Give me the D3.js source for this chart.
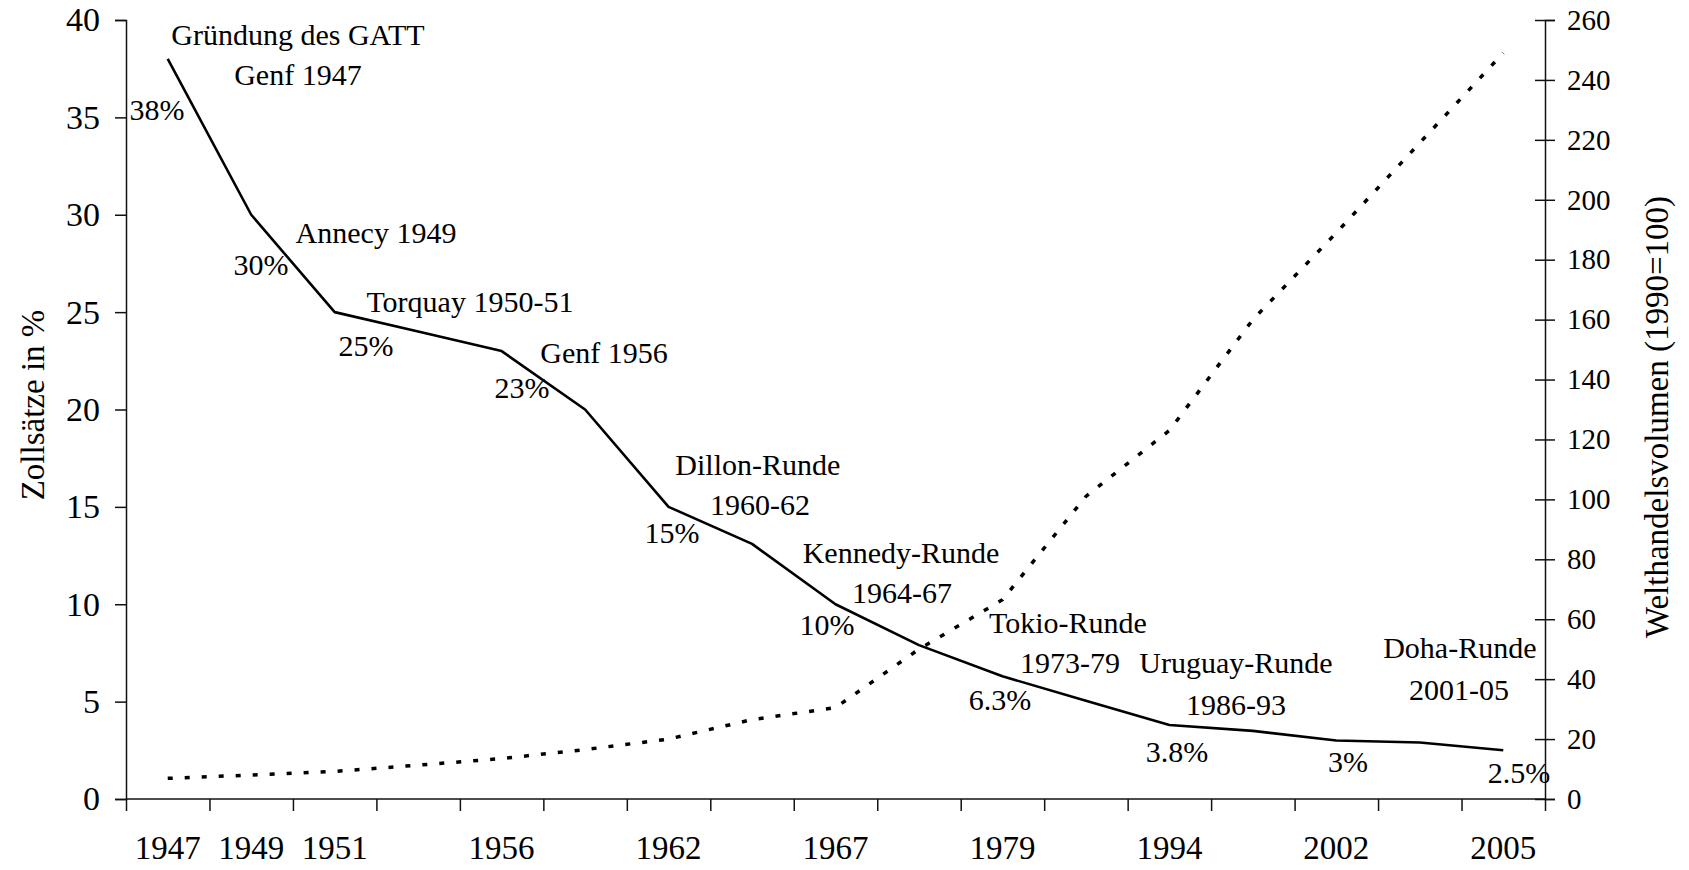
<!DOCTYPE html>
<html>
<head>
<meta charset="utf-8">
<script src="https://cdn.jsdelivr.net/npm/d3@7/dist/d3.min.js"></script>
<style>
  html, body { margin: 0; padding: 0; background: #fff; }
  svg { display: block; }
  text { font-family: "Liberation Serif", "Times New Roman", serif; fill: #000; }
</style>
</head>
<body>
<script>
// ---------- data ----------
const categoryLabels = ["1947","1949","1951","","1956","","1962","","1967","","1979","","1994","","2002","","2005"];
const tariffRates = [38, 30, 25, 24, 23, 20, 15, 13.1, 10, 7.9, 6.3, 5.05, 3.8, 3.5, 3, 2.9, 2.5];
const tradeVolume = [6.9, 8, 9.2, 11.3, 13.5, 16.5, 20, 26.5, 30.5, 50, 66.5, 101, 123, 160, 189, 219, 249];
const leftTicks = [0, 5, 10, 15, 20, 25, 30, 35, 40];
const rightTicks = [0, 20, 40, 60, 80, 100, 120, 140, 160, 180, 200, 220, 240, 260];
// round annotations: text, category position, tariff-axis value (baseline)
const roundLabels = [
  ["Gründung des GATT", 1.56, 38.72],
  ["Genf 1947", 1.56, 36.66],
  ["Annecy 1949", 2.495, 28.55],
  ["Torquay 1950-51", 3.62, 25.0],
  ["Genf 1956", 5.227, 22.39],
  ["Dillon-Runde", 7.07, 16.64],
  ["1960-62", 7.096, 14.58],
  ["Kennedy-Runde", 8.785, 12.12],
  ["1964-67", 8.797, 10.06],
  ["Tokio-Runde", 10.785, 8.52],
  ["1973-79", 10.81, 6.47],
  ["Uruguay-Runde", 12.798, 6.47],
  ["1986-93", 12.798, 4.31],
  ["Doha-Runde", 15.48, 7.24],
  ["2001-05", 15.47, 5.08]
];
const rateLabels = [
  ["38%", -0.13, 34.87],
  ["30%", 1.117, 26.91],
  ["25%", 2.375, 22.75],
  ["23%", 4.244, 20.59],
  ["15%", 6.04, 13.15],
  ["10%", 7.898, 8.42],
  ["6.3%", 9.97, 4.57],
  ["3.8%", 12.09, 1.90],
  ["3%", 14.14, 1.39],
  ["2.5%", 16.19, 0.82]
];

// ---------- layout ----------
const W = 1689, H = 870;
const mLeft = 126, mRight = 1545, mTop = 20, mBottom = 799;
const n = categoryLabels.length;

const svg = d3.select("body").append("svg").attr("width", W).attr("height", H);
svg.append("rect").attr("width", W).attr("height", H).attr("fill", "#fff");

const xBand = d3.scaleBand().domain(d3.range(n)).range([mLeft, mRight]).paddingInner(0).paddingOuter(0);
const xCat = d3.scaleLinear().domain([-0.5, n - 0.5]).range([mLeft, mRight]);
const yL = d3.scaleLinear().domain([0, 40]).range([mBottom, mTop]);
const yR = d3.scaleLinear().domain([0, 260]).range([mBottom, mTop]);

const axisColor = "#111";
const serif = "'Liberation Serif', 'Times New Roman', serif";

// x axis: boundary ticks
const gxTicks = svg.append("g").attr("transform", `translate(0,${mBottom})`)
  .call(d3.axisBottom(xCat).tickValues(d3.range(-0.5, n, 1)).tickSize(12).tickFormat(""));
gxTicks.select(".domain").remove();
gxTicks.selectAll("line").attr("stroke", axisColor).attr("stroke-width", 1.5);

// x axis: category labels
const gxLab = svg.append("g").attr("transform", `translate(0,${mBottom})`)
  .call(d3.axisBottom(xBand).tickSize(0).tickPadding(0).tickFormat(i => categoryLabels[i]));
gxLab.select(".domain").remove();
gxLab.selectAll("text").attr("font-size", 33).attr("dy", null).attr("y", 60)
  .style("font-family", serif);

// left axis
const gyL = svg.append("g").attr("transform", `translate(${mLeft},0)`)
  .call(d3.axisLeft(yL).tickValues(leftTicks).tickSize(11).tickPadding(15));
gyL.select(".domain").attr("stroke", axisColor).attr("stroke-width", 1.5);
gyL.selectAll("line").attr("stroke", axisColor).attr("stroke-width", 1.5);
gyL.selectAll("text").attr("font-size", 34).style("font-family", serif);

// right axis (ticks cross)
const gyR = svg.append("g").attr("transform", `translate(${mRight},0)`)
  .call(d3.axisRight(yR).tickValues(rightTicks).tickSize(10).tickPadding(12));
gyR.select(".domain").attr("stroke", axisColor).attr("stroke-width", 1.5);
gyR.selectAll(".tick line").attr("x1", -10).attr("x2", 10).attr("stroke", axisColor).attr("stroke-width", 1.5);
gyR.selectAll("text").attr("font-size", 29).style("font-family", serif);

// x axis baseline
svg.append("line").attr("x1", mLeft).attr("x2", mRight).attr("y1", mBottom).attr("y2", mBottom)
  .attr("stroke", axisColor).attr("stroke-width", 1.5);

// axis titles
svg.append("text").attr("transform", `translate(44,405) rotate(-90)`)
  .attr("text-anchor", "middle").attr("font-size", 33).text("Zollsätze in %");
svg.append("text").attr("transform", `translate(1668,417) rotate(-90)`)
  .attr("text-anchor", "middle").attr("font-size", 33).text("Welthandelsvolumen (1990=100)");

// trade volume dotted line
svg.append("path").datum(tradeVolume)
  .attr("fill", "none").attr("stroke", "#000").attr("stroke-width", 3.5)
  .attr("stroke-dasharray", "5,12")
  .attr("d", d3.line().x((d, i) => xCat(i)).y(d => yR(d)));

// tariff solid line
svg.append("path").datum(tariffRates)
  .attr("fill", "none").attr("stroke", "#000").attr("stroke-width", 2.6)
  .attr("stroke-linejoin", "round")
  .attr("d", d3.line().x((d, i) => xCat(i)).y(d => yL(d)));

// annotations
svg.append("g").selectAll("text").data(roundLabels).join("text")
  .attr("x", d => xCat(d[1])).attr("y", d => yL(d[2]))
  .attr("text-anchor", "middle").attr("font-size", 30).text(d => d[0]);
svg.append("g").selectAll("text").data(rateLabels).join("text")
  .attr("x", d => xCat(d[1])).attr("y", d => yL(d[2]))
  .attr("text-anchor", "middle").attr("font-size", 30).text(d => d[0]);
</script>
</body>
</html>
